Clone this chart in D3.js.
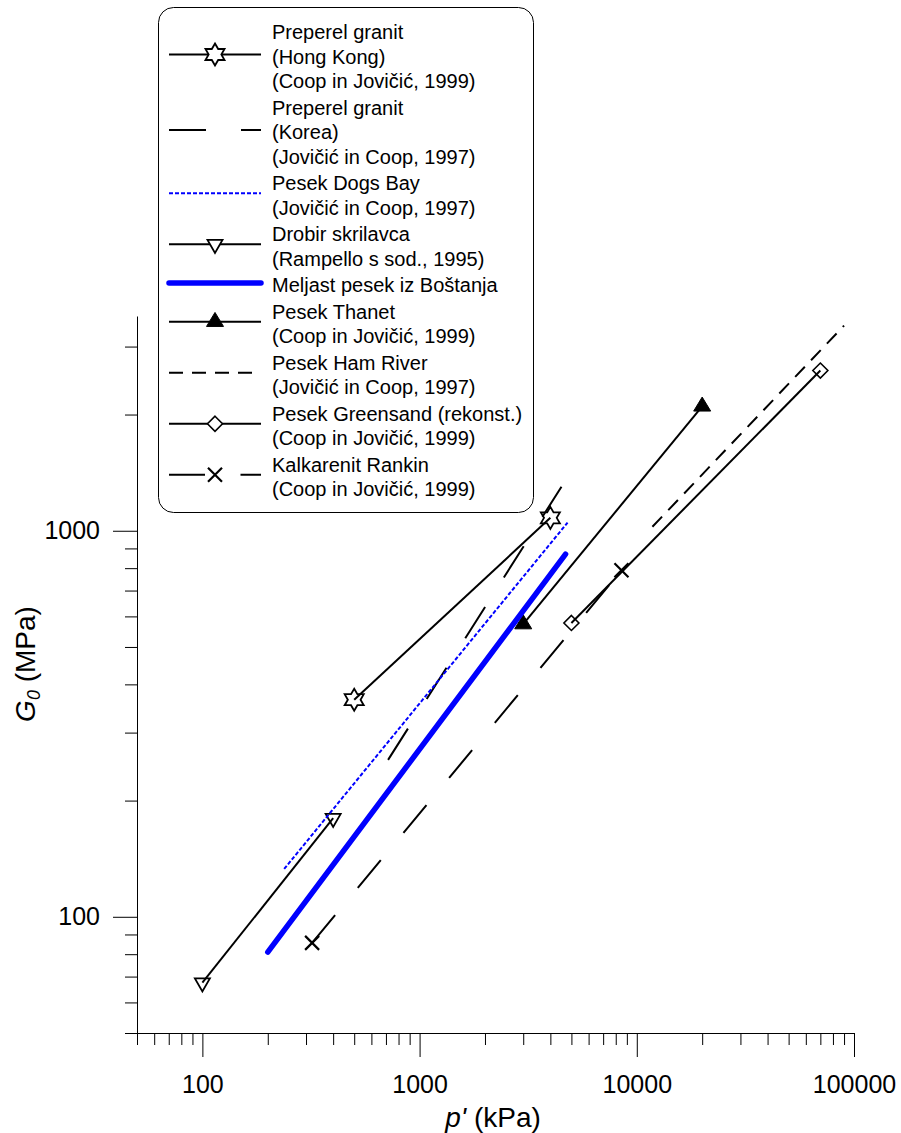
<!DOCTYPE html>
<html><head><meta charset="utf-8">
<script src="https://cdn.jsdelivr.net/npm/d3@7"></script>
<style>
body{margin:0;background:#fff}
svg{display:block}
text{font-family:"Liberation Sans", Arial, sans-serif; fill:#000}
</style>
</head><body>
<svg id="chart" width="901" height="1133"></svg>
<script>
// ---------- data ----------
const seriesIds = ["hk","korea","dogs","drobir","bostanj","thanet","ham","greensand","rankin"];
const legendTexts = [
  ["Preperel granit","(Hong Kong)","(Coop in Jovičić, 1999)"],
  ["Preperel granit","(Korea)","(Jovičić in Coop, 1997)"],
  ["Pesek Dogs Bay","(Jovičić in Coop, 1997)"],
  ["Drobir skrilavca","(Rampello s sod., 1995)"],
  ["Meljast pesek iz Boštanja"],
  ["Pesek Thanet","(Coop in Jovičić, 1999)"],
  ["Pesek Ham River","(Jovičić in Coop, 1997)"],
  ["Pesek Greensand (rekonst.)","(Coop in Jovičić, 1999)"],
  ["Kalkarenit Rankin","(Coop in Jovičić, 1999)"]
];
const hkP = [500, 4000],        hkG = [365, 1080];
const koreaP = [716, 4500],     koreaG = [255, 1300];
const dogsP = [238, 4800],      dogsG = [133, 1050];
const drobirP = [100, 400],     drobirG = [67.5, 180];
const bostanjP = [200, 4700],   bostanjG = [81, 870];
const thanetP = [3000, 20000],  thanetG = [573, 2100];
const hamP = [11800, 90000],    hamG = [1024, 3400];
const greensandP = [5000, 70000], greensandG = [577, 2600];
const rankinP = [320, 8500],    rankinG = [85.6, 790];

const xMajorTicks = [100, 1000, 10000, 100000];
const xMinorTicks = [50,60,70,80,90,200,300,400,500,600,700,800,900,
  2000,3000,4000,5000,6000,7000,8000,9000,20000,30000,40000,50000,60000,70000,80000,90000];
const yMajorTicks = [100, 1000];
const yMinorTicks = [50,60,70,80,90,200,300,400,500,600,700,800,900,2000,3000];

// ---------- styles ----------
const BLUE = "#0000ff";
const styles = {
  hk:        {color:"#000", width:2,   dash:null,    marker:"star"},
  korea:     {color:"#000", width:2,   dash:"37,35", marker:null},
  dogs:      {color:BLUE,   width:2,   dash:"4,2",   marker:null},
  drobir:    {color:"#000", width:2,   dash:null,    marker:"triDown"},
  bostanj:   {color:BLUE,   width:5.5, dash:null,    marker:null, cap:"round"},
  thanet:    {color:"#000", width:2,   dash:null,    marker:"triUp"},
  ham:       {color:"#000", width:2,   dash:"14,9",  marker:null},
  greensand: {color:"#000", width:2,   dash:null,    marker:"diamond"},
  rankin:    {color:"#000", width:2,   dash:"36,35.5", marker:"cross"}
};
const dataMap = {
  hk:[hkP,hkG], korea:[koreaP,koreaG], dogs:[dogsP,dogsG], drobir:[drobirP,drobirG],
  bostanj:[bostanjP,bostanjG], thanet:[thanetP,thanetG], ham:[hamP,hamG],
  greensand:[greensandP,greensandG], rankin:[rankinP,rankinG]
};

function starPath(R){
  const pts=[];
  for(let i=0;i<12;i++){
    const a=-Math.PI/2+i*Math.PI/6;
    const r = i%2===0 ? R : R/Math.sqrt(3);
    pts.push([ (r*Math.cos(a)).toFixed(2), (r*Math.sin(a)).toFixed(2) ]);
  }
  return "M"+pts.map(p=>p.join(",")).join("L")+"Z";
}
const markerDefs = {
  star:    {d: starPath(11),                          fill:"none", sw:1.8},
  triDown: {d: "M-7.5,-4.3L7.5,-4.3L0,8.7Z",           fill:"none", sw:1.8},
  triUp:   {d: "M-8.5,4.7L8.5,4.7L0,-9.3Z",            fill:"#000", sw:1},
  diamond: {d: "M0,-7.5L7.5,0L0,7.5L-7.5,0Z",          fill:"none", sw:1.6},
  cross:   {d: "M-7,-7L7,7M-7,7L7,-7",                  fill:"none", sw:2.2}
};

// ---------- scales ----------
const svg = d3.select("#chart");
const x = d3.scaleLog().domain([50, 100000]).range([137, 854]);
const y = d3.scaleLog().domain([50, 3600]).range([1033, 316]);

// ---------- axes ----------
const axX = svg.append("g").attr("transform","translate(0,1033)");
axX.call(d3.axisBottom(x).tickValues(xMinorTicks).tickSize(12).tickSizeOuter(0).tickFormat(""));
axX.append("g").call(d3.axisBottom(x).tickValues(xMajorTicks).tickSize(24).tickSizeOuter(0)
  .tickPadding(18).tickFormat(d3.format("d")));
axX.selectAll("g g .domain").remove();
axX.selectAll("text").style("font-size","25px").attr("fill","#000");

const axY = svg.append("g").attr("transform","translate(137,0)");
axY.call(d3.axisLeft(y).tickValues(yMinorTicks).tickSize(12).tickSizeOuter(0).tickFormat(""));
axY.append("g").call(d3.axisLeft(y).tickValues(yMajorTicks).tickSize(24).tickSizeOuter(0)
  .tickPadding(13).tickFormat(d3.format("d")));
axY.selectAll("g g .domain").remove();
axY.selectAll("text").style("font-size","25px").attr("fill","#000");

svg.selectAll(".domain").attr("stroke","#000").attr("stroke-width",1);
svg.selectAll(".tick line").attr("stroke","#000").attr("stroke-width",1);

// axis titles
const xt = svg.append("text").attr("x",493).attr("y",1127).attr("text-anchor","middle")
  .style("font-size","28px");
xt.append("tspan").attr("font-style","italic").text("p'");
xt.append("tspan").text(" (kPa)");

const yt = svg.append("text").attr("transform","translate(35,664) rotate(-90)")
  .attr("text-anchor","middle").style("font-size","28px");
yt.append("tspan").attr("font-style","italic").text("G");
yt.append("tspan").attr("font-style","italic").attr("dy",5).style("font-size","18px").text("0");
yt.append("tspan").attr("dy",-5).text(" (MPa)");

// ---------- series ----------
const line = d3.line().x(d=>x(d.p)).y(d=>y(d.g));
const drawOrder = ["drobir","rankin","korea","ham","greensand","thanet","hk","dogs","bostanj"];
drawOrder.forEach(id=>{
  const [P,G] = dataMap[id];
  const pts = P.map((p,i)=>({p, g:G[i]}));
  const s = styles[id];
  svg.append("path").datum(pts).attr("d",line)
    .attr("fill","none").attr("stroke",s.color).attr("stroke-width",s.width)
    .attr("stroke-dasharray",s.dash).attr("stroke-linecap",s.cap||"butt");
  if(s.marker){
    const m = markerDefs[s.marker];
    svg.selectAll(null).data(pts).enter().append("path")
      .attr("transform",d=>`translate(${x(d.p)},${y(d.g)})`)
      .attr("d",m.d).attr("fill",m.fill).attr("stroke","#000")
      .attr("stroke-width",m.sw).attr("stroke-linejoin","miter");
  }
});

// ---------- legend ----------
const lg = svg.append("g");
lg.append("rect").attr("x",158.5).attr("y",7.5).attr("width",375).attr("height",505)
  .attr("rx",15).attr("ry",15).attr("fill","#fff").attr("stroke","#000").attr("stroke-width",1);
let yCur = 32;
const LH = 24.5, GAP = 2;
seriesIds.forEach((id,k)=>{
  const lines = legendTexts[k];
  const center = yCur + (lines.length-1)*LH/2;
  const sy = center - 2;
  const s = styles[id];
  lg.append("line").attr("x1",169).attr("x2",261).attr("y1",sy).attr("y2",sy)
    .attr("stroke",s.color).attr("stroke-width",s.width)
    .attr("stroke-dasharray",s.dash).attr("stroke-linecap",s.cap||"butt");
  if(s.marker){
    const m = markerDefs[s.marker];
    lg.append("path").attr("transform",`translate(215,${sy})`).attr("d",m.d)
      .attr("fill",m.fill==="none"?"#fff":m.fill).attr("stroke","#000").attr("stroke-width",m.sw);
  }
  lines.forEach((t,i)=>{
    lg.append("text").attr("x",272).attr("y",yCur+i*LH+7).style("font-size","20px").text(t);
  });
  yCur += lines.length*LH + GAP;
});
</script>
</body></html>
